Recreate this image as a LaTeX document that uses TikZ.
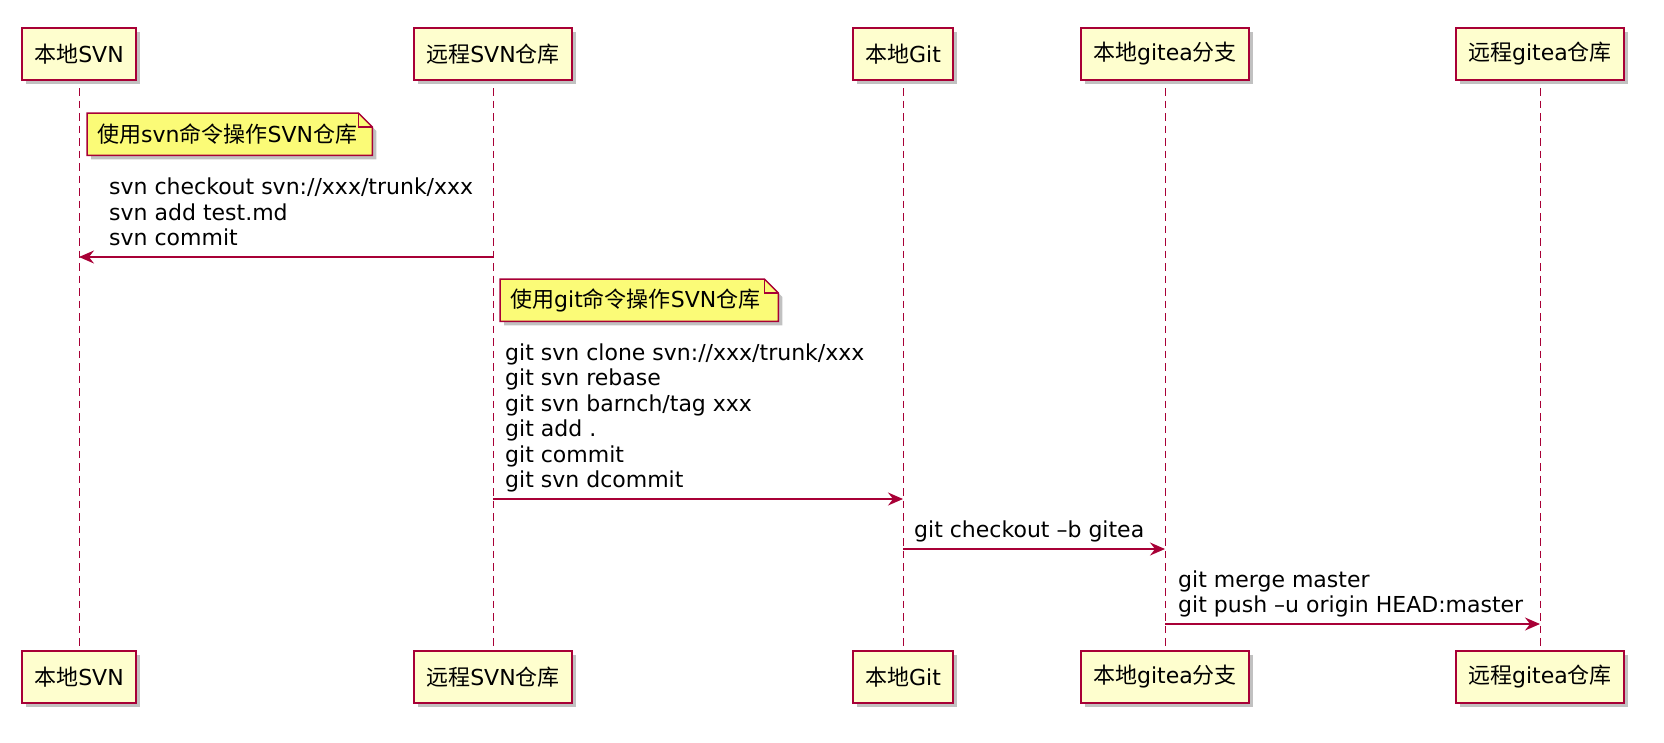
\documentclass[tikz,border=0pt]{standalone}
\usepackage{fontspec}
\setmainfont{DejaVu Sans}
\newfontfamily\cjk{Noto Sans CJK SC}
\usetikzlibrary{arrows.meta, shadows, backgrounds}
\definecolor{umlred}{HTML}{A80036}
\definecolor{umlbox}{HTML}{FEFECE}
\definecolor{umlnote}{HTML}{FBFB77}
\newcommand{\zh}[1]{{\cjk #1}}
\tikzset{
  shade/.style = {drop shadow={shadow xshift=4pt, shadow yshift=-4pt, fill=black!70, opacity=.35}},
  part/.style = {draw=umlred, line width=2, fill=umlbox, minimum height=52, inner xsep=12, shade},
  life/.style = {draw=umlred, line width=1, dash pattern=on 7.5pt off 5pt, shorten <=7, shorten >=3},
  msg/.style = {draw=umlred, line width=1.4, -{Stealth[length=15pt, width=13pt, inset=5pt]}},
  msgtext/.style = {anchor=south west, inner sep=0, align=left, text depth=5},
  notetext/.style = {anchor=north west, inner xsep=10, inner ysep=0, minimum height=42, align=left},
  notebox/.style = {draw=umlred, line width=1.5, fill=umlnote, shade},
  fold/.style = {draw=umlred, line width=1.5}
}

\begin{document}
\begin{tikzpicture}[x=1pt, y=-1pt, every node/.style={font=\fontsize{22}{25.5}\selectfont}]
    \useasboundingbox (0, 0) rectangle (1664, 742);

    \foreach \n/\x/\t in {svn/79/{\zh{本地}SVN}, rsvn/493/{\zh{远程}SVN\zh{仓库}}, git/903/{\zh{本地}Git},
                          gitea/1165/{\zh{本地}gitea\zh{分支}}, rgitea/1540/{\zh{远程}gitea\zh{仓库}}} {
      \node [part] (\n-top) at (\x, 54) {\t};
      \node [part] (\n-bot) at (\x, 677) {\t};
      \begin{scope}[on background layer]
        \draw [life] (\n-top) -- (\n-bot);
      \end{scope}
    }

    \node [notetext, text width=265] (note1) at (87, 113) {\zh{使用}svn\zh{命令操作}SVN\zh{仓库}};
    \node [notetext, text width=258] (note2) at (500, 279) {\zh{使用}git\zh{命令操作}SVN\zh{仓库}};
    \begin{scope}[on background layer]
      \foreach \m in {note1, note2} {
        \draw [notebox] (\m.north west) -- ([xshift=-14]\m.north east) -- ([yshift=-14]\m.north east)
          -- (\m.south east) -- (\m.south west) -- cycle;
        \draw [fold] ([xshift=-14]\m.north east) -- ([xshift=-14, yshift=-14]\m.north east) -- ([yshift=-14]\m.north east);
      }
    \end{scope}

    \coordinate (row1) at (0, 257);
    \coordinate (row2) at (0, 499);
    \coordinate (row3) at (0, 549);
    \coordinate (row4) at (0, 624);

    \node [msgtext] (m1) at (109, 251) {svn checkout svn://xxx/trunk/xxx\\svn add test.md\\svn commit};
    \draw [msg] (rsvn-top |- row1) -- (svn-top |- row1);

    \node [msgtext] (m2) at (505, 493) {git svn clone svn://xxx/trunk/xxx\\git svn rebase\\git svn barnch/tag xxx\\git add .\\git commit\\git svn dcommit};
    \draw [msg] (rsvn-top |- row2) -- (git-top |- row2);

    \node [msgtext] (m3) at (914, 543) {git checkout \textendash b gitea};
    \draw [msg] (git-top |- row3) -- (gitea-top |- row3);

    \node [msgtext] (m4) at (1178, 618) {git merge master\\git push \textendash u origin HEAD:master};
    \draw [msg] (gitea-top |- row4) -- (rgitea-top |- row4);
  \end{tikzpicture}
\end{document}
